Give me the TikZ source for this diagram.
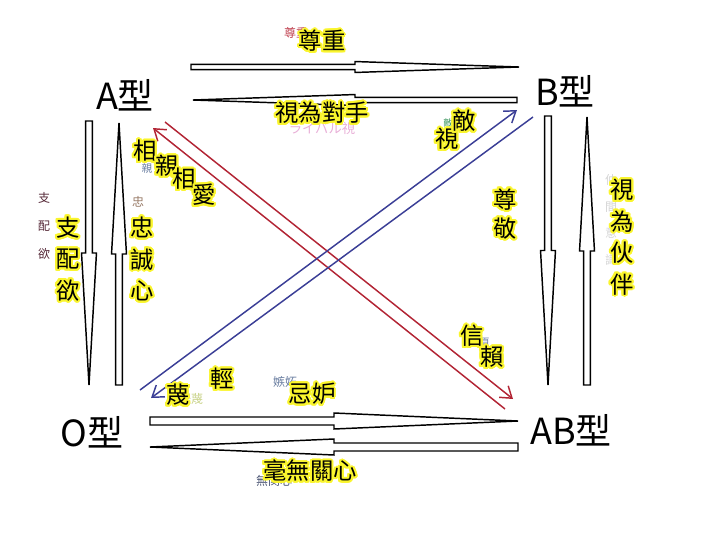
\documentclass[tikz,border=0pt]{standalone}
\usepackage{fontspec}
\newfontfamily\cjk{Noto Sans CJK TC}
\usepackage[copies]{contour}
\contourlength{1.5pt}
\contournumber{24}
\usetikzlibrary{arrows.meta,calc}
\definecolor{glow}{RGB}{250,245,45}
\definecolor{redline}{RGB}{178,36,52}
\definecolor{blueline}{RGB}{58,62,150}
\definecolor{ghostred}{RGB}{190,60,75}
\definecolor{ghostpink}{RGB}{232,175,215}
\definecolor{ghostblue}{RGB}{105,125,160}
\definecolor{ghostplum}{RGB}{85,40,55}
\definecolor{ghostbrown}{RGB}{150,120,100}
\definecolor{ghostgreen}{RGB}{60,150,95}
\definecolor{ghostgray}{RGB}{212,212,212}
\definecolor{ghostlime}{RGB}{200,210,135}
\definecolor{ghostnavy}{RGB}{75,85,115}
\newcommand\hl[1]{\contour{glow}{#1}}
% hollow spear: tail, tip, half shaft, half head
\newcommand\spear[4]{%
  \coordinate (sm) at ($(#1)!0.5!(#2)$);
  \draw[spearline] ($(#1)!#3!90:(#2)$) -- ($(sm)!#3!90:(#2)$) -- ($(sm)!#4!90:(#2)$)
    -- (#2) -- ($(sm)!#4!-90:(#2)$) -- ($(sm)!#3!-90:(#2)$) -- ($(#1)!#3!-90:(#2)$) -- cycle;}
\tikzset{
  type/.style={font=\cjk\fontsize{27}{30}\selectfont, inner sep=0pt},
  big/.style={font=\cjk\fontsize{17.5}{23.6}\selectfont, inner sep=0pt, align=center},
  tiny/.style={font=\cjk\fontsize{9}{21}\selectfont, inner sep=0pt, align=center},
  spearline/.style={draw=black, fill=white, line width=1.1pt, line join=miter},
  link/.style={line width=1.1pt, -{Straight Barb[length=8pt,width=11pt]}},
}
\begin{document}
\begin{tikzpicture}[x=0.75pt,y=-0.75pt]
  \useasboundingbox (0,0) rectangle (710,533);
  \draw
    (125,95) node[type] (A){A型}
    (565,91) node[type] (B){B型}
    (92,432) node[type] (O){O型}
    (571,430) node[type] (AB){AB型};
  % spear ends
  \coordinate (a1) at (191,67);   \coordinate (b1) at (519,67);
  \coordinate (b2) at (517,100);  \coordinate (a2) at (193,100);
  \coordinate (a3) at (89,121);   \coordinate (o3) at (89,385);
  \coordinate (o4) at (119,385);  \coordinate (a4) at (119,123);
  \coordinate (b5) at (548,116);  \coordinate (ab5) at (548,385);
  \coordinate (ab6) at (587,385); \coordinate (b6) at (587,117);
  \coordinate (o7) at (150,421);  \coordinate (ab7) at (518,421);
  \coordinate (ab8) at (518,447); \coordinate (o8) at (150,447);
  % diagonal ends
  \coordinate (a9) at (165,122);  \coordinate (ab9) at (513,399);
  \coordinate (ab10) at (505,409);\coordinate (a10) at (153,128);
  \coordinate (o11) at (140,390); \coordinate (b11) at (517,110);
  \coordinate (b12) at (533,117); \coordinate (o12) at (151,398);
  \spear{a1}{b1}{1.9pt}{4.1pt}
  \spear{b2}{a2}{1.9pt}{4.1pt}
  \spear{a3}{o3}{2.6pt}{5.6pt}
  \spear{o4}{a4}{2.6pt}{5.6pt}
  \spear{b5}{ab5}{2.6pt}{5.6pt}
  \spear{ab6}{b6}{2.6pt}{5.6pt}
  \spear{o7}{ab7}{3pt}{6pt}
  \spear{ab8}{o8}{3pt}{6pt}
  \begin{scope}[link]
    \draw[redline] (a9) to (ab9);
    \draw[redline] (ab10) to (a10);
    \draw[blueline] (o11) to (b11);
    \draw[blueline] (b12) to (o12);
  \end{scope}
  % faint labels underneath
  \node[tiny, ghostred] (g1) at (296,33) {尊重};
  \node[tiny, ghostpink, font=\cjk\fontsize{10}{12}\selectfont] (g2) at (322,128) {ライバル視};
  \node[tiny, ghostblue, font=\cjk\fontsize{8}{10}\selectfont] (g3) at (147,168) {親};
  \node[tiny, ghostplum] (g4) at (44,226) {支\\配\\欲};
  \node[tiny, ghostbrown] (g5) at (138,202) {忠};
  \node[tiny, ghostgreen, font=\cjk\fontsize{7}{9}\selectfont] (g6) at (448,123) {敵};
  \node[tiny, ghostgray, font=\cjk\fontsize{9}{20}\selectfont] (g7) at (611,220) {仲\\間\\意\\識};
  \node[tiny, ghostblue, font=\cjk\fontsize{7}{9}\selectfont] (g8) at (485,342) {頁};
  \node[tiny, ghostblue] (g9) at (285,382) {嫉妬};
  \node[tiny, ghostlime] (g10) at (191,399) {軽蔑};
  \node[tiny, ghostnavy] (g11) at (274,481) {無関心};
  % highlighted labels
  \node[big] (respect) at (322,42) {\hl{尊重}};
  \node[big] (rival) at (322,114) {\hl{視為對手}};
  \node[big] (love1) at (145,152) {\hl{相}};
  \node[big] (love2) at (167,167) {\hl{親}};
  \node[big] (love3) at (184,180) {\hl{相}};
  \node[big] (love4) at (204,196) {\hl{愛}};
  \node[big] (rule) at (68,260) {\hl{支}\\\hl{配}\\\hl{欲}};
  \node[big] (loyal) at (142,260) {\hl{忠}\\\hl{誠}\\\hl{心}};
  \node[big] (foe1) at (447,140) {\hl{視}};
  \node[big] (foe2) at (464,122) {\hl{敵}};
  \node[big, font=\cjk\fontsize{17.5}{22}\selectfont] (esteem) at (505,215) {\hl{尊}\\\hl{敬}};
  \node[big] (mate) at (622,238) {\hl{視}\\\hl{為}\\\hl{伙}\\\hl{伴}};
  \node[big] (trust1) at (472,337) {\hl{信}};
  \node[big] (trust2) at (492,358) {\hl{賴}};
  \node[big] (scorn1) at (222,380) {\hl{輕}};
  \node[big] (scorn2) at (178,396) {\hl{蔑}};
  \node[big] (envy) at (312,395) {\hl{忌妒}};
  \node[big] (apathy) at (310,472) {\hl{毫無關心}};
\end{tikzpicture}
\end{document}
